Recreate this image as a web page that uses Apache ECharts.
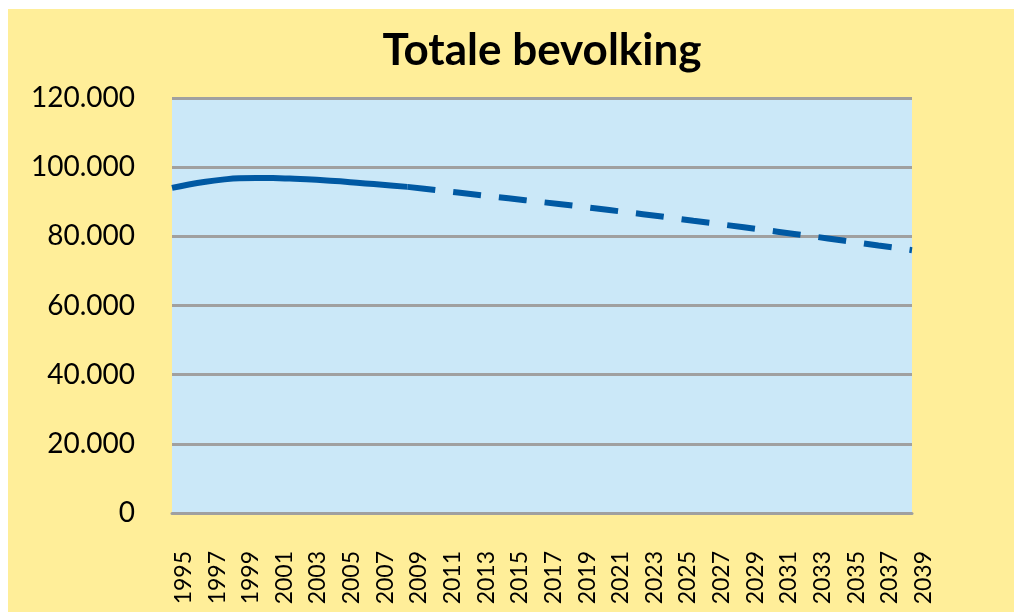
<!DOCTYPE html>
<html>
<head>
<meta charset="utf-8">
<script src="https://cdn.jsdelivr.net/npm/echarts@6/dist/echarts.min.js"></script>
<style>
  html, body { margin: 0; padding: 0; background: #ffffff; }
  #chart { position: absolute; left: 8px; top: 9px; width: 1006px; height: 603px; }
</style>
</head>
<body>
<div id="chart"></div>
<script>
// jaren 1995 - 2039
const years = ['1995','1996','1997','1998','1999','2000','2001','2002','2003','2004',
  '2005','2006','2007','2008','2009','2010','2011','2012','2013','2014',
  '2015','2016','2017','2018','2019','2020','2021','2022','2023','2024',
  '2025','2026','2027','2028','2029','2030','2031','2032','2033','2034',
  '2035','2036','2037','2038','2039'];

// waargenomen (doorgetrokken lijn) 1995-2009
const observed = [94000, 95000, 95800, 96400, 96800, 96900, 96850, 96700, 96500, 96200,
  95900, 95500, 95100, 94700, 94300];

// prognose (stippellijn) 2009-2039
const forecast = [94300, 93750, 93200, 92650, 92100, 91550, 91000, 90450, 89900, 89350,
  88800, 88200, 87600, 87000, 86400, 85800, 85150, 84500, 83900, 83250,
  82650, 82000, 81350, 80700, 80050, 79400, 78700, 78050, 77350, 76700, 76000];

const yTicks = [0, 20000, 40000, 60000, 80000, 100000, 120000];

const solidData = years.map((y, i) => i < observed.length ? observed[i] : null);
const dashData = years.map((y, i) => i >= observed.length - 1 ? forecast[i - observed.length + 1] : null);

const chart = echarts.init(document.getElementById('chart'));
const option = {
  backgroundColor: '#FFEE99',
  animation: false,
  title: {
    text: 'Totale bevolking',
    left: 529,
    top: 15,
    textAlign: 'center',
    textStyle: { fontFamily: 'Lato', fontWeight: 'bold', fontSize: 44, color: '#000' }
  },
  grid: {
    left: 164, right: 102, top: 89, bottom: 99,
    show: true, backgroundColor: '#CBE8F8', borderWidth: 0
  },
  xAxis: {
    type: 'category',
    data: years,
    boundaryGap: false,
    axisLine: { show: true, lineStyle: { color: '#A0A0A0', width: 3 } },
    axisTick: { show: false },
    axisLabel: {
      interval: 1,
      rotate: 90,
      margin: 38,
      fontFamily: 'Lato',
      fontSize: 23,
      color: '#000',
      verticalAlign: 'top'
    },
    splitLine: { show: false }
  },
  yAxis: {
    type: 'value',
    min: yTicks[0],
    max: yTicks[yTicks.length - 1],
    interval: 20000,
    axisLine: { show: false },
    axisTick: { show: false },
    axisLabel: {
      margin: 37,
      fontFamily: 'Lato',
      fontSize: 28,
      color: '#000',
      formatter: v => String(v).replace(/\B(?=(\d{3})+(?!\d))/g, '.')
    },
    splitLine: { lineStyle: { color: '#A0A0A0', width: 3 } }
  },
  series: [
    {
      name: 'waargenomen',
      type: 'line',
      data: solidData,
      smooth: 0.5,
      showSymbol: false,
      lineStyle: { color: '#0059A3', width: 6 }
    },
    {
      name: 'prognose',
      type: 'line',
      data: dashData,
      showSymbol: false,
      lineStyle: { color: '#0059A3', width: 6, type: [28, 18] }
    }
  ]
};
chart.setOption(option);
</script>
</body>
</html>
